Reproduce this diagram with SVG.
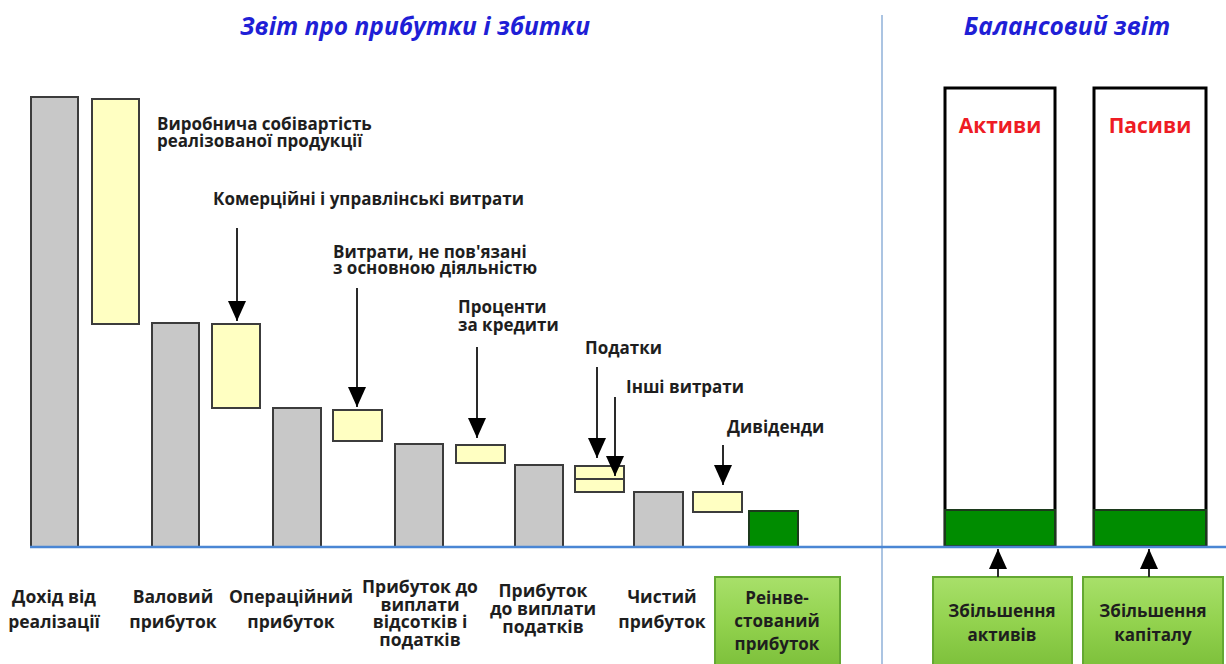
<svg xmlns="http://www.w3.org/2000/svg" width="1226" height="664" viewBox="0 0 1226 664">
  <defs>
    <marker id="head" markerUnits="userSpaceOnUse" markerWidth="20" markerHeight="18" refX="20" refY="9" orient="auto">
      <path d="M0,0 L20,9 L0,18 z" fill="#000"/>
    </marker>
    <linearGradient id="btn" x1="0" y1="0" x2="0" y2="1">
      <stop offset="0" stop-color="#a8e06a"/>
      <stop offset="0.5" stop-color="#92d24e"/>
      <stop offset="1" stop-color="#7cbf3a"/>
    </linearGradient>
    <style>
      .lbl { font-family: "Open Sans", "Liberation Sans", sans-serif; font-weight: bold; font-size: 17px; fill: #1e1e1e; }
      .bot { font-size: 17.5px; }
      .mid { text-anchor: middle; }
      .title { font-family: "Open Sans", "Liberation Sans", sans-serif; font-weight: bold; font-style: italic; font-size: 24.5px; fill: #1f1fd6; text-anchor: middle; }
      .red { font-family: "Open Sans", "Liberation Sans", sans-serif; font-weight: bold; font-size: 21px; fill: #ee1c24; text-anchor: middle; }
      .base { fill: #c8c8c8; stroke: #3c3c3c; stroke-width: 2; }
      .cost { fill: #ffffc2; stroke: #3c3c3c; stroke-width: 2; }
      .green { fill: #008c00; stroke: #1c3a1c; stroke-width: 2; }
      .btn { fill: url(#btn); stroke: #64a832; stroke-width: 2; }
      .frame { fill: #fff; stroke: #000; stroke-width: 3; }
      .arrow { stroke: #2a2a2a; stroke-width: 2; fill: none; marker-end: url(#head); }
    </style>
  </defs>

  <rect width="1226" height="664" fill="#fff"/>

  <!-- section titles and divider -->
  <text class="title" x="415" y="35">Звіт про прибутки і збитки</text>
  <text class="title" x="1067" y="35">Балансовий звіт</text>
  <line x1="882" y1="15" x2="882" y2="664" stroke="#8fb0d8" stroke-width="1.5"/>

  <!-- income statement waterfall -->
  <g id="revenue"><rect class="base" x="31" y="97" width="47" height="450"/>
    <text class="lbl bot mid" x="54" y="603">Дохід від<tspan x="54" dy="25">реалізації</tspan></text></g>
  <g id="cogs"><rect class="cost" x="92" y="99" width="47" height="225"/>
    <text class="lbl" x="157" y="130">Виробнича собівартість<tspan x="157" dy="17">реалізованої продукції</tspan></text></g>
  <g id="gross"><rect class="base" x="152" y="323" width="47" height="224"/>
    <text class="lbl bot mid" x="173" y="603">Валовий<tspan x="173" dy="25">прибуток</tspan></text></g>
  <g id="sga"><rect class="cost" x="212" y="324" width="48" height="84"/>
    <text class="lbl" x="213" y="205">Комерційні і управлінські витрати</text></g>
  <g id="operating"><rect class="base" x="273" y="408" width="48" height="139"/>
    <text class="lbl bot mid" x="291" y="603">Операційний<tspan x="291" dy="25">прибуток</tspan></text></g>
  <g id="nonop"><rect class="cost" x="333" y="410" width="49" height="31"/>
    <text class="lbl" x="333" y="258">Витрати, не пов'язані<tspan x="333" dy="16">з основною діяльністю</tspan></text></g>
  <g id="ebit"><rect class="base" x="395" y="444" width="48" height="103"/>
    <text class="lbl bot mid" x="420" y="593">Прибуток до<tspan x="420" dy="17.5">виплати</tspan><tspan x="420" dy="17.5">відсотків і</tspan><tspan x="420" dy="17.5">податків</tspan></text></g>
  <g id="interest"><rect class="cost" x="456" y="445" width="49" height="18"/>
    <text class="lbl" x="458" y="313">Проценти<tspan x="458" dy="18">за кредити</tspan></text></g>
  <g id="ebt"><rect class="base" x="515" y="465" width="48" height="82"/>
    <text class="lbl bot mid" x="543" y="597">Прибуток<tspan x="543" dy="18">до виплати</tspan><tspan x="543" dy="18">податків</tspan></text></g>
  <g id="taxes"><rect class="cost" x="575" y="466" width="49" height="26"/>
    <line x1="575" y1="479" x2="624" y2="479" stroke="#3c3c3c" stroke-width="2"/>
    <text class="lbl" x="585" y="354">Податки</text><text class="lbl" x="626" y="393">Інші витрати</text></g>
  <g id="net"><rect class="base" x="634" y="492" width="49" height="55"/>
    <text class="lbl bot mid" x="662" y="603">Чистий<tspan x="662" dy="25">прибуток</tspan></text></g>
  <g id="dividends"><rect class="cost" x="693" y="492" width="49" height="20"/>
    <text class="lbl" x="727" y="433">Дивіденди</text></g>
  <g id="retained"><rect class="green" x="749" y="511" width="49" height="36"/>
    <rect class="btn" x="715" y="577" width="125" height="92"/>
    <text class="lbl mid" x="777" y="604">Реінве-<tspan x="777" dy="23">стований</tspan><tspan x="777" dy="23">прибуток</tspan></text></g>

  <!-- balance sheet -->
  <g id="assets"><rect class="frame" x="945" y="88" width="110" height="458"/>
    <rect class="green" x="945" y="510" width="110" height="36" stroke="#000" stroke-width="3"/>
    <text class="red" x="1000" y="133">Активи</text></g>
  <g id="liabilities"><rect class="frame" x="1094" y="88" width="112" height="458"/>
    <rect class="green" x="1094" y="510" width="112" height="36" stroke="#000" stroke-width="3"/>
    <text class="red" x="1150" y="133">Пасиви</text></g>
  <g id="asset-growth"><rect class="btn" x="933" y="577" width="139" height="92"/>
    <text class="lbl mid" x="1002" y="617">Збільшення<tspan x="1002" dy="24">активів</tspan></text></g>
  <g id="capital-growth"><rect class="btn" x="1083" y="577" width="140" height="92"/>
    <text class="lbl mid" x="1153" y="617">Збільшення<tspan x="1153" dy="24">капіталу</tspan></text></g>

  <!-- base line -->
  <line x1="30" y1="547" x2="1226" y2="547" stroke="#4a86d4" stroke-width="2.5"/>

  <!-- connectors -->
  <g id="connectors">
    <line class="arrow" x1="237" y1="228" x2="237" y2="321"/>
    <line class="arrow" x1="357" y1="288" x2="357" y2="407"/>
    <line class="arrow" x1="477" y1="347" x2="477" y2="438"/>
    <line class="arrow" x1="597" y1="367" x2="597" y2="458"/>
    <line class="arrow" x1="615" y1="397" x2="615" y2="476"/>
    <line class="arrow" x1="723" y1="445" x2="723" y2="485"/>
    <line class="arrow" x1="998" y1="577" x2="998" y2="549"/>
    <line class="arrow" x1="1149" y1="577" x2="1149" y2="549"/>
  </g>
</svg>
